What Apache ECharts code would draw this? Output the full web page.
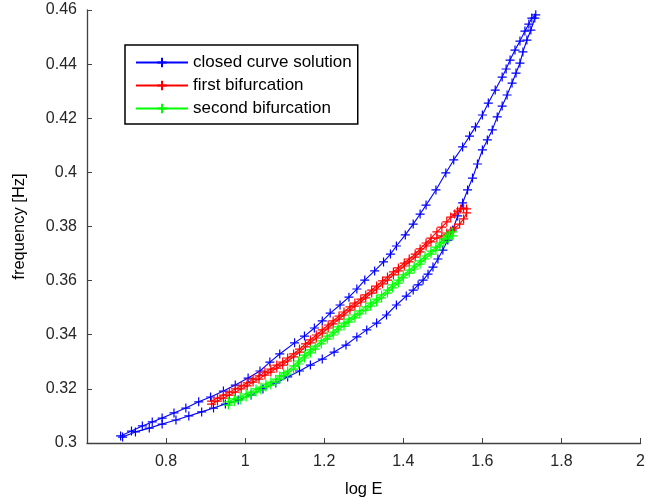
<!DOCTYPE html>
<html>
<head>
<meta charset="utf-8">
<script src="https://cdn.jsdelivr.net/npm/echarts@6/dist/echarts.min.js"></script>
<style>
  html, body { margin: 0; padding: 0; background: #fff; }
  #chart { width: 648px; height: 504px; }
</style>
</head>
<body>
<div id="chart"></div>
<script>
// closed curve, upper branch (log E, frequency)
var closedUpper = [
  [0.685,0.3026],[0.7125,0.3044],[0.74,0.3063],[0.765,0.3078],[0.79,0.3092],[0.82,0.3111],
  [0.85,0.3129],[0.8825,0.3152],[0.9125,0.3170],[0.945,0.3192],[0.975,0.3214],[1.0075,0.3240],
  [1.0375,0.3266],[1.0625,0.3299],[1.0875,0.3329],[1.125,0.3370],[1.15,0.3395],[1.175,0.3425],
  [1.195,0.3451],[1.215,0.3480],[1.24,0.3510],[1.2625,0.3539],[1.2825,0.3569],[1.3025,0.3602],
  [1.3275,0.3636],[1.35,0.3669],[1.3675,0.3698],[1.3825,0.3728],[1.405,0.3769],[1.425,0.3809],
  [1.4425,0.3846],[1.4575,0.3879],[1.4825,0.3935],[1.5075,0.3998],[1.5275,0.4046],[1.55,0.4094],
  [1.5675,0.4134],[1.5825,0.4168],[1.60,0.4212],[1.615,0.4256],[1.6325,0.4304],[1.65,0.4352],
  [1.66,0.4382],[1.67,0.4415],[1.6825,0.4452],[1.695,0.4485],[1.7075,0.4522],[1.7175,0.4548],
  [1.725,0.4570],[1.735,0.4582]
];
// closed curve, lower branch (back down)
var closedLower = [
  [1.7325,0.4570],[1.7225,0.4526],[1.7125,0.4489],[1.7025,0.4445],[1.695,0.4404],[1.685,0.4367],
  [1.675,0.4330],[1.6625,0.4286],[1.65,0.4245],[1.6375,0.4205],[1.625,0.4157],[1.6125,0.4120],
  [1.60,0.4083],[1.5875,0.4031],[1.575,0.3979],[1.5625,0.3935],[1.55,0.3887],[1.5375,0.3839],
  [1.525,0.3787],[1.5125,0.3750],[1.50,0.3713],[1.4875,0.3680],[1.475,0.3650],[1.4625,0.3624],
  [1.45,0.3602],[1.4375,0.3584],[1.425,0.3565],[1.4075,0.3543],[1.3825,0.3510],[1.3575,0.3473],
  [1.3325,0.3443],[1.3075,0.3418],[1.2825,0.3392],[1.255,0.3362],[1.225,0.3336],[1.195,0.3310],
  [1.165,0.3288],[1.1375,0.3266],[1.1075,0.3244],[1.0775,0.3222],[1.045,0.3200],[1.015,0.3177],
  [0.9825,0.3159],[0.95,0.3144],[0.92,0.3129],[0.89,0.3115],[0.8575,0.3100],[0.825,0.3085],
  [0.79,0.3070],[0.7575,0.3055],[0.7225,0.3041],[0.69,0.3022]
];
// first bifurcation: out along the top edge, back along the bottom edge
var firstUpper = [
  [0.915,0.3155],[0.93,0.3166],[0.945,0.3177],[0.96,0.3188],[0.975,0.3200],[0.99,0.3211],
  [1.005,0.3222],[1.02,0.3236],[1.035,0.3248],[1.05,0.3262],[1.065,0.3273],[1.08,0.3288],
  [1.095,0.3299],[1.1075,0.3314],[1.1225,0.3329],[1.1375,0.3347],[1.1525,0.3366],[1.165,0.3381],
  [1.18,0.3399],[1.195,0.3418],[1.21,0.3436],[1.2225,0.3451],[1.2375,0.3469],[1.25,0.3484],
  [1.265,0.3503],[1.2775,0.3517],[1.2925,0.3532],[1.305,0.3547],[1.32,0.3565],[1.3325,0.3580],
  [1.3475,0.3599],[1.36,0.3613],[1.375,0.3632],[1.3875,0.3647],[1.4025,0.3665],[1.415,0.3680],
  [1.43,0.3698],[1.4425,0.3717],[1.4575,0.3739],[1.47,0.3757],[1.485,0.3780],[1.4975,0.3798],
  [1.51,0.3817],[1.52,0.3835],[1.53,0.3846],[1.5375,0.3857],[1.545,0.3865],[1.5525,0.3868],
  [1.56,0.3865]
];
var firstLower = [
  [1.56,0.3850],[1.5525,0.3828],[1.5425,0.3809],[1.53,0.3794],[1.52,0.3783],[1.51,0.3776],
  [1.4975,0.3765],[1.485,0.3757],[1.47,0.3743],[1.4575,0.3728],[1.4425,0.3706],[1.43,0.3687],
  [1.415,0.3669],[1.4025,0.3654],[1.3875,0.3636],[1.375,0.3621],[1.36,0.3602],[1.3475,0.3588],
  [1.3325,0.3569],[1.32,0.3554],[1.305,0.3536],[1.2925,0.3521],[1.2775,0.3506],[1.265,0.3491],
  [1.25,0.3473],[1.2375,0.3458],[1.2225,0.3440],[1.21,0.3425],[1.195,0.3406],[1.18,0.3388],
  [1.165,0.3370],[1.1525,0.3355],[1.1375,0.3336],[1.1225,0.3318],[1.1075,0.3303],[1.095,0.3288],
  [1.08,0.3277],[1.065,0.3262],[1.05,0.3251],[1.035,0.3236],[1.02,0.3225],[1.005,0.3211],
  [0.99,0.3200],[0.975,0.3188],[0.96,0.3177],[0.945,0.3166],[0.93,0.3155],[0.915,0.3144]
];
// second bifurcation
var secondUpper = [
  [0.9575,0.3152],[0.9725,0.3163],[0.9875,0.3170],[1.0025,0.3181],[1.015,0.3188],[1.0275,0.3200],
  [1.04,0.3207],[1.0525,0.3218],[1.065,0.3225],[1.0775,0.3236],[1.0875,0.3248],[1.0975,0.3259],
  [1.1075,0.3266],[1.1225,0.3285],[1.135,0.3303],[1.15,0.3325],[1.165,0.3344],[1.1775,0.3358],
  [1.1925,0.3377],[1.2075,0.3395],[1.2225,0.3410],[1.235,0.3429],[1.25,0.3443],[1.2625,0.3458],
  [1.2775,0.3473],[1.29,0.3488],[1.305,0.3503],[1.3175,0.3517],[1.3325,0.3532],[1.345,0.3547],
  [1.36,0.3565],[1.3725,0.3584],[1.3875,0.3602],[1.40,0.3621],[1.415,0.3639],[1.4275,0.3654],
  [1.4425,0.3673],[1.455,0.3691],[1.47,0.3709],[1.4825,0.3724],[1.4925,0.3739],[1.5025,0.3754],
  [1.51,0.3765],[1.5175,0.3776],[1.525,0.3780]
];
var secondLower = [
  [1.525,0.3765],[1.515,0.3757],[1.5025,0.3743],[1.4925,0.3728],[1.4825,0.3713],[1.47,0.3698],
  [1.455,0.3680],[1.4425,0.3661],[1.4275,0.3643],[1.415,0.3628],[1.40,0.3610],[1.3875,0.3591],
  [1.3725,0.3573],[1.36,0.3554],[1.345,0.3536],[1.3325,0.3521],[1.3175,0.3506],[1.305,0.3491],
  [1.29,0.3477],[1.2775,0.3462],[1.2625,0.3447],[1.25,0.3432],[1.235,0.3418],[1.2225,0.3399],
  [1.2075,0.3384],[1.1925,0.3366],[1.1775,0.3347],[1.165,0.3333],[1.15,0.3314],[1.135,0.3292],
  [1.1225,0.3273],[1.1075,0.3255],[1.0975,0.3248],[1.0875,0.3236],[1.0775,0.3225],[1.065,0.3214],
  [1.0525,0.3207],[1.04,0.3196],[1.0275,0.3188],[1.015,0.3177],[1.0025,0.3170],[0.9875,0.3159],
  [0.9725,0.3152],[0.9575,0.3140]
];
var seriesNames = ['closed curve solution', 'first bifurcation', 'second bifurcation'];
var seriesColors = ['#0000ff', '#ff0000', '#00ff00'];

var plus = 'path://M0,-1L0,1M-1,0L1,0';
var font = 'Liberation Sans, Arial, Helvetica, sans-serif';

function mkSeries(i, data) {
  return {
    name: seriesNames[i],
    type: 'line',
    data: data,
    symbol: plus,
    symbolSize: 9,
    showAllSymbol: true,
    itemStyle: { color: seriesColors[i], borderColor: seriesColors[i], borderWidth: 1.2 },
    lineStyle: { color: seriesColors[i], width: 1.1 },
    emphasis: { disabled: true }
  };
}

var myChart = echarts.init(document.getElementById('chart'));
var option = {
  animation: false,
  backgroundColor: '#fff',
  grid: { left: 87, right: 3, top: 10, bottom: 61, containLabel: false },
  legend: {
    orient: 'vertical',
    left: 125, top: 45,
    data: seriesNames,
    itemWidth: 52, itemHeight: 12, itemGap: 6,
    padding: [9, 6, 7, 10],
    backgroundColor: '#fff',
    borderColor: '#000', borderWidth: 1.5,
    textStyle: { fontFamily: font, fontSize: 17, color: '#000' }
  },
  xAxis: {
    type: 'value',
    min: 0.6, max: 2, interval: 0.2,
    name: 'log E', nameLocation: 'middle', nameGap: 38,
    nameTextStyle: { fontFamily: font, fontSize: 16.5, color: '#000' },
    axisLine: { lineStyle: { color: '#404040', width: 1.3 } },
    axisTick: { inside: true, length: 5, lineStyle: { color: '#404040' } },
    axisLabel: { showMinLabel: false, margin: 11, fontFamily: font, fontSize: 16, color: '#262626' },
    splitLine: { show: false }
  },
  yAxis: {
    type: 'value',
    min: 0.3, max: 0.46, interval: 0.02,
    name: 'frequency [Hz]', nameLocation: 'middle', nameGap: 59,
    nameTextStyle: { fontFamily: font, fontSize: 16.5, color: '#000' },
    axisLine: { lineStyle: { color: '#404040', width: 1.3 } },
    axisTick: { inside: true, length: 5, lineStyle: { color: '#404040' } },
    axisLabel: { margin: 10, fontFamily: font, fontSize: 16, color: '#262626' },
    splitLine: { show: false }
  },
  series: [
    mkSeries(0, closedUpper.concat(closedLower)),
    mkSeries(1, firstUpper.concat(firstLower)),
    mkSeries(2, secondUpper.concat(secondLower))
  ]
};
myChart.setOption(option);
</script>
</body>
</html>
